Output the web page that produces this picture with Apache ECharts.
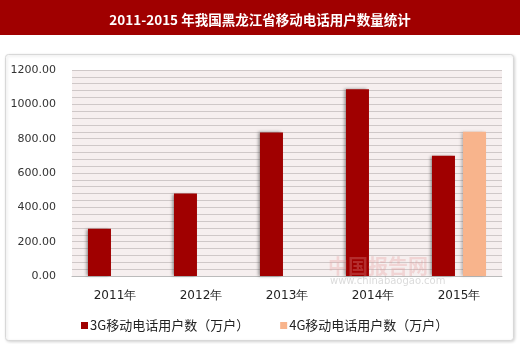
<!DOCTYPE html>
<html><head><meta charset="utf-8">
<script src="https://cdn.jsdelivr.net/npm/echarts@6/dist/echarts.min.js"></script>
<style>html,body{margin:0;padding:0;background:#fff}#c{width:520px;height:344px}</style>
</head><body><div id="c"></div>
<script>
const titleText = '2011-2015 年我国黑龙江省移动电话用户数量统计';
const categories = ['2011年', '2012年', '2013年', '2014年', '2015年'];
const series3GName = '3G移动电话用户数（万户）';
const series4GName = '4G移动电话用户数（万户）';
const values3G = [275, 480, 836, 1088, 700];
const values4G = [null, null, null, null, 840];
const yTicks = [0, 200, 400, 600, 800, 1000, 1200];

const chart = echarts.init(document.getElementById('c'), null, {renderer: 'canvas'});
const fontF = '"DejaVu Sans", Verdana, sans-serif';
chart.setOption({
  animation: false,
  backgroundColor: '#fff',
  graphic: [
    {type: 'rect', left: 0, top: 0, shape: {width: 520, height: 35}, style: {fill: '#A00000'}, z: 0},
    {type: 'rect', left: 5, top: 54, shape: {width: 508, height: 286, r: 3},
     style: {fill: '#fff', stroke: '#d8d8d8', lineWidth: 1, shadowBlur: 3, shadowColor: 'rgba(0,0,0,0.15)', shadowOffsetX: 1, shadowOffsetY: 1}, z: -1},
    {type: 'text', left: 328, top: 256, style: {text: '中国报告网', fill: 'rgba(230,150,150,0.3)', font: 'bold 20px "Noto Sans CJK SC"'}, z: 10},
    {type: 'text', left: 330, top: 276, style: {text: 'www.chinabaogao.com', fill: 'rgba(150,150,150,0.35)', font: '10px "DejaVu Sans"'}, z: 10}
  ],
  title: {
    text: titleText, left: 'center', top: 8,
    textStyle: {color: '#fff', fontSize: 13.5, fontWeight: 'bold', fontFamily: '"Noto Sans CJK SC", sans-serif'}
  },
  legend: {
    left: 76, top: 314, itemWidth: 7, itemHeight: 7, itemGap: 31, icon: 'rect',
    textStyle: {fontSize: 13, color: '#222', fontFamily: '"Noto Sans CJK SC", sans-serif', padding: [0, 0, 0, -3]},
    data: [series3GName, series4GName]
  },
  grid: {left: 72, right: 18, top: 70, bottom: 68, containLabel: false,
         show: true, backgroundColor: '#F6EFEF', borderWidth: 0},
  xAxis: {
    type: 'category', data: categories,
    axisLine: {show: true, lineStyle: {color: '#bbb'}}, axisTick: {show: false},
    axisLabel: {color: '#222', fontSize: 12, margin: 14, fontFamily: fontF}
  },
  yAxis: {
    type: 'value', min: 0, max: 1200, interval: 40,
    axisLine: {show: false}, axisTick: {show: false},
    splitLine: {lineStyle: {color: '#CFC8C8', width: 1}},
    axisLabel: {
      color: '#333', fontSize: 11, margin: 16, fontFamily: fontF,
      formatter: v => yTicks.includes(v) ? v.toFixed(2) : ''
    }
  },
  series: [
    {name: series3GName, type: 'bar', data: values3G, barWidth: 23, barGap: '35%',
     itemStyle: {color: '#A00000', shadowColor: 'rgba(80,80,80,0.6)', shadowBlur: 3, shadowOffsetX: -2, shadowOffsetY: 0}},
    {name: series4GName, type: 'bar', data: values4G, barWidth: 23,
     itemStyle: {color: '#F8B48C', shadowColor: 'rgba(80,80,80,0.4)', shadowBlur: 3, shadowOffsetX: -2}}
  ]
});
</script></body></html>
